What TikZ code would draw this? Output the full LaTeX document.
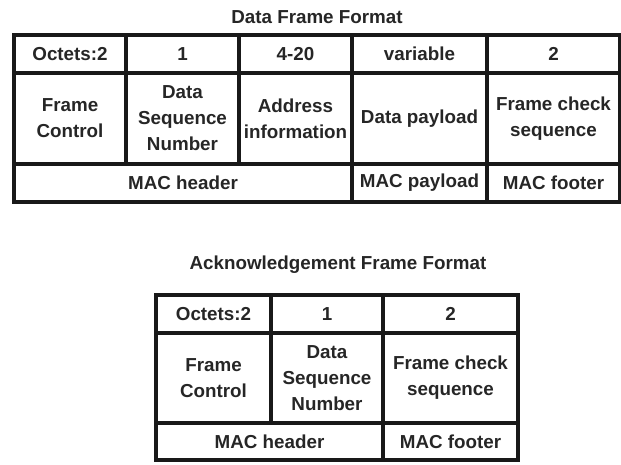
\documentclass[tikz,border=0pt]{standalone}
\usepackage{fontspec}
\setmainfont{Liberation Sans}
\begin{document}
\begin{tikzpicture}[x=1pt,y=-1pt,
  cell/.style={draw=black!90, line width=3.2pt, inner sep=0pt, align=center,
    font=\fontsize{18.8}{26}\selectfont\bfseries, text=black!85},
  title/.style={font=\fontsize{18.8}{22}\selectfont\bfseries, text=black!85}]
\useasboundingbox (0,0) rectangle (621,464);
% helper: cell spanning x1..x2, y1..y2
\def\cellat#1#2#3#4#5#6{\node[cell, minimum width={(#3-#2)*1pt}, minimum height={(#5-#4)*1pt}] (#1) at ({(#2+#3)/2},{(#4+#5)/2}) {#6};}
\node[title] (t1) at (317,17) {Data Frame Format};
\cellat{a1}{14}{126}{35}{73}{Octets:2}
\cellat{a2}{126}{239}{35}{73}{1}
\cellat{a3}{239}{352}{35}{73}{4-20}
\cellat{a4}{352}{487}{35}{73}{variable}
\cellat{a5}{487}{620}{35}{73}{2}
\cellat{b1}{14}{126}{73}{164}{Frame\\Control}
\cellat{b2}{126}{239}{73}{164}{Data\\Sequence\\Number}
\cellat{b3}{239}{352}{73}{164}{Address\\information}
\cellat{b4}{352}{487}{73}{164}{Data payload}
\cellat{b5}{487}{620}{73}{164}{Frame check\\sequence}
\cellat{c1}{14}{352}{164}{202}{MAC header}
\cellat{c2}{352}{487}{164}{202}{MAC payload}
\cellat{c3}{487}{620}{164}{202}{MAC footer}
\node[title] (t2) at (338,265) {Acknowledgement Frame Format};
\cellat{d1}{156}{271}{295}{333}{Octets:2}
\cellat{d2}{271}{383}{295}{333}{1}
\cellat{d3}{383}{518}{295}{333}{2}
\cellat{e1}{156}{271}{333}{423}{Frame\\Control}
\cellat{e2}{271}{383}{333}{423}{Data\\Sequence\\Number}
\cellat{e3}{383}{518}{333}{423}{Frame check\\sequence}
\cellat{f1}{156}{383}{423}{460}{MAC header}
\cellat{f2}{383}{518}{423}{460}{MAC footer}
\end{tikzpicture}
\end{document}
